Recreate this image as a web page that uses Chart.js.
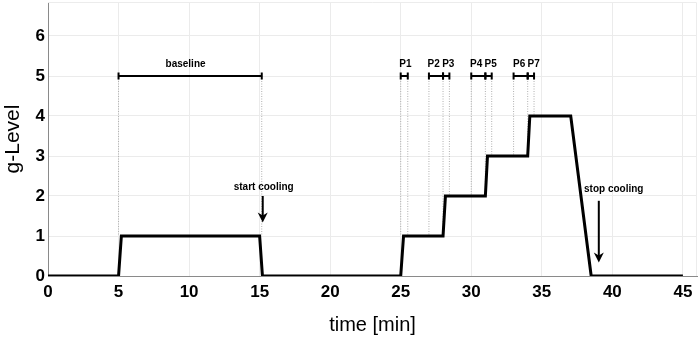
<!DOCTYPE html>
<html>
<head>
<meta charset="utf-8">
<script src="https://cdn.jsdelivr.net/npm/chart.js@4"></script>
<style>
html,body{margin:0;padding:0;background:#fff;}
#wrap{width:699px;height:337px;position:relative;}
</style>
</head>
<body>
<div id="wrap"><canvas id="c"></canvas></div>
<script>
// main profile
const timeMin = [0, 5, 5.2, 15, 15.2, 25, 25.2, 28, 28.17, 31, 31.15, 34, 34.15, 37.05, 38.5, 45];
const gLevel  = [0, 0, 1,   1,  0,    0,  1,    1,  2,     2,  3,     3,  4,     4,     0,    0];

// interval brackets at g = 5
const bracketLabels = ['baseline', 'P1', 'P2', 'P3', 'P4', 'P5', 'P6', 'P7'];
const bracketStart  = [5,     25,    27,    28,    30,    31,    33,    34];
const bracketEnd    = [15.15, 25.5,  28,    28.45, 31,    31.45, 34,    34.45];
const labelX        = [9.75,  25.33, 27.33, 28.37, 30.35, 31.38, 33.4,  34.42];
const bracketY = 5;
const labelY = 5.22;

// dotted guide lines from the brackets down to the curve
const guideX   = [5, 15.15, 25, 25.5, 27, 28, 28.45, 30, 31, 31.45, 33, 34, 34.45];
const guideLow = [1, 1,     1,  1,    1,  1,  2,     2,  2,  3,     3,  3,  4];

// arrows
const arrowLabels = ['start cooling', 'stop cooling'];
const arrowX      = [15.22, 39.04];
const arrowTop    = [2.0,   1.88];
const arrowTip    = [1.34,  0.34];
const arrowTextX  = [15.29, 40.1];
const arrowTextY  = [2.14,  2.11];

// axis ticks
const xTicks = [0, 5, 10, 15, 20, 25, 30, 35, 40, 45];
const yTicks = [0, 1, 2, 3, 4, 5, 6];

const profile = timeMin.map((t, i) => ({x: t, y: gLevel[i]}));
const guides = [];
guideX.forEach((x, i) => {
  guides.push({x: x, y: bracketY});
  guides.push({x: x, y: guideLow[i]});
  guides.push({x: x, y: null});
});

const annot = {
  id: 'annot',
  afterDraw(chart) {
    const ctx = chart.ctx;
    const xs = chart.scales.x, ys = chart.scales.y;
    const a = chart.chartArea;
    ctx.save();
    // faint frame top/right
    ctx.strokeStyle = '#ececec';
    ctx.lineWidth = 1;
    ctx.beginPath();
    ctx.moveTo(a.left, a.top + 0.5);
    ctx.lineTo(a.right - 0.5, a.top + 0.5);
    ctx.lineTo(a.right - 0.5, a.bottom);
    ctx.stroke();

    // brackets
    ctx.strokeStyle = '#000';
    ctx.lineWidth = 2;
    const by = ys.getPixelForValue(bracketY);
    for (let i = 0; i < bracketStart.length; i++) {
      const x1 = xs.getPixelForValue(bracketStart[i]);
      const x2 = xs.getPixelForValue(bracketEnd[i]);
      ctx.beginPath();
      ctx.moveTo(x1, by); ctx.lineTo(x2, by);
      ctx.moveTo(x1, by - 3.5); ctx.lineTo(x1, by + 3.5);
      ctx.moveTo(x2, by - 3.5); ctx.lineTo(x2, by + 3.5);
      ctx.stroke();
    }
    ctx.fillStyle = '#000';
    ctx.font = 'bold 10px "Liberation Sans", Arial, sans-serif';
    ctx.textAlign = 'center';
    ctx.textBaseline = 'alphabetic';
    for (let i = 0; i < bracketLabels.length; i++) {
      ctx.fillText(bracketLabels[i], xs.getPixelForValue(labelX[i]), ys.getPixelForValue(labelY));
    }
    // arrows
    for (let i = 0; i < arrowLabels.length; i++) {
      const x = xs.getPixelForValue(arrowX[i]);
      const yt = ys.getPixelForValue(arrowTop[i]);
      const yb = ys.getPixelForValue(arrowTip[i]);
      ctx.lineWidth = 2;
      ctx.beginPath();
      ctx.moveTo(x, yt); ctx.lineTo(x, yb - 6);
      ctx.stroke();
      ctx.beginPath();
      ctx.moveTo(x, yb);
      ctx.lineTo(x - 5, yb - 10);
      ctx.lineTo(x, yb - 7);
      ctx.lineTo(x + 5, yb - 10);
      ctx.closePath();
      ctx.fill();
      ctx.fillText(arrowLabels[i], xs.getPixelForValue(arrowTextX[i]), ys.getPixelForValue(arrowTextY[i]));
    }
    // axis titles
    ctx.font = '20px "Liberation Sans", Arial, sans-serif';
    ctx.textAlign = 'center';
    ctx.textBaseline = 'alphabetic';
    ctx.fillText('time [min]', (a.left + a.right) / 2, 331);
    ctx.save();
    ctx.translate(19, (a.top + a.bottom) / 2);
    ctx.rotate(-Math.PI / 2);
    ctx.font = '21px "Liberation Sans", Arial, sans-serif';
    ctx.fillText('g-Level', 0, 0);
    ctx.restore();
    ctx.restore();
  }
};

new Chart(document.getElementById('c'), {
  type: 'line',
  data: {
    datasets: [
      {
        data: profile,
        borderColor: '#000',
        borderWidth: 3,
        pointRadius: 0,
        tension: 0,
        fill: false,
        order: 1
      },
      {
        data: guides,
        borderColor: '#b0b0b0',
        borderWidth: 1,
        borderDash: [1, 1.5],
        pointRadius: 0,
        spanGaps: false,
        fill: false,
        order: 2
      }
    ]
  },
  options: {
    responsive: true,
    maintainAspectRatio: false,
    animation: false,
    events: [],
    layout: {padding: {top: 2, right: 2, left: 0, bottom: 0}},
    plugins: {legend: {display: false}, tooltip: {enabled: false}},
    scales: {
      x: {
        type: 'linear',
        min: 0, max: 46,
        afterBuildTicks(s) { s.ticks = xTicks.map(v => ({value: v})); },
        afterFit(s) { s.height = 61; s.paddingLeft = 0; s.paddingRight = 0; },
        grid: {color: '#ebebeb', lineWidth: 1, drawTicks: false},
        border: {color: '#8a8a8a', width: 1},
        ticks: {
          padding: 6,
          color: '#000',
          maxRotation: 0,
          font: {family: '"Liberation Sans", Arial, sans-serif', size: 17, weight: 'bold'}
        }
      },
      y: {
        type: 'linear',
        min: 0, max: 6.85,
        afterBuildTicks(s) { s.ticks = yTicks.map(v => ({value: v})); },
        afterFit(s) { s.width = 48; s.paddingTop = 0; s.paddingBottom = 0; },
        grid: {color: '#ebebeb', lineWidth: 1, drawTicks: false},
        border: {color: '#8a8a8a', width: 1},
        ticks: {
          padding: 3,
          color: '#000',
          font: {family: '"Liberation Sans", Arial, sans-serif', size: 17, weight: 'bold'}
        }
      }
    }
  },
  plugins: [annot]
});
</script>
</body>
</html>
